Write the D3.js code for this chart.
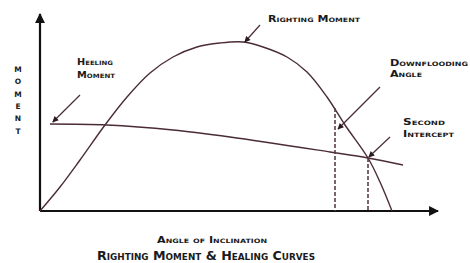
<!DOCTYPE html>
<html><head><meta charset="utf-8">
<script src="https://cdn.jsdelivr.net/npm/d3@7"></script>
<style>
body{margin:0;background:#fff;}
text{font-family:"DejaVu Sans","Liberation Sans",sans-serif;font-weight:bold;font-variant:small-caps;fill:#1a1a1a;}
</style></head><body>
<svg id="c" width="470" height="263"></svg>
<script>
// Data (angle of inclination vs moment, arbitrary units)
const rightingAngle  = [0, 5, 10, 16.25, 21.75, 27.5, 33.25, 39.25, 45, 50.75, 55.75, 61.75, 66.75, 71.75, 76.25, 82, 85, 88];
const rightingMoment = [0, 12, 25.5, 43, 57, 69, 77, 82, 84, 84.5, 82, 77, 69.5, 57, 43, 26.5, 14.5, 0];
const heelingAngle   = [2.5, 16.75, 33.25, 47.5, 72.5, 82, 90.75];
const heelingMoment  = [43.5, 43, 40.5, 37, 29.5, 26.5, 23];
const downfloodingAngle = 73.75;
const downfloodingMoment = 51.5;
const secondInterceptAngle = 82;
const secondInterceptMoment = 26.5;
const labels = {
  righting: ["Righting Moment"],
  heeling: ["Heeling", "Moment"],
  downflooding: ["Downflooding", "Angle"],
  intercept: ["Second", "Intercept"],
  yTitle: "MOMENT",
  xTitle: "Angle of Inclination",
  title: "Righting Moment & Healing Curves"
};

const svg = d3.select("#c");
const x = d3.scaleLinear().domain([0, 100]).range([40, 440]);
const y = d3.scaleLinear().domain([0, 100]).range([211, 11]);

const defs = svg.append("defs");
defs.append("marker").attr("id","ax").attr("viewBox","0 0 10 10").attr("refX",9).attr("refY",5)
  .attr("markerWidth",5).attr("markerHeight",4.5).attr("orient","auto").attr("markerUnits","strokeWidth")
  .append("path").attr("d","M0,0L10,5L0,10z").attr("fill","#111");
defs.append("marker").attr("id","ar").attr("viewBox","0 0 10 10").attr("refX",9).attr("refY",5)
  .attr("markerWidth",7).attr("markerHeight",6).attr("orient","auto").attr("markerUnits","userSpaceOnUse")
  .append("path").attr("d","M0,0L10,5L0,10z").attr("fill","#2a1a1e");

const curveColor = "#4a2c34";

// Axes
const xAxis = d3.axisBottom(x).tickValues([]).tickSizeOuter(0);
const yAxis = d3.axisLeft(y).tickValues([]).tickSizeOuter(0);
const gx = svg.append("g").attr("transform",`translate(0,${y(0)})`).call(xAxis);
const gy = svg.append("g").attr("transform",`translate(${x(0)},0)`).call(yAxis);
gx.select(".domain").attr("d",`M${x(0)},0H${x(99.5)}`).attr("stroke","#111").attr("stroke-width",2.2).attr("marker-end","url(#ax)");
gy.select(".domain").attr("d",`M0,${y(0)}V${y(98.5)}`).attr("stroke","#111").attr("stroke-width",2.2).attr("marker-end","url(#ax)");

// curves
const rData = rightingAngle.map((a,i)=>[a, rightingMoment[i]]);
const hData = heelingAngle.map((a,i)=>[a, heelingMoment[i]]);
const line = d3.line().x(d=>x(d[0])).y(d=>y(d[1])).curve(d3.curveCatmullRom.alpha(0.5));
svg.append("path").datum(rData).attr("d",line).attr("fill","none").attr("stroke",curveColor).attr("stroke-width",1.4);
svg.append("path").datum(hData).attr("d",line).attr("fill","none").attr("stroke",curveColor).attr("stroke-width",1.4);

// dashed verticals
[[downfloodingAngle, downfloodingMoment],[secondInterceptAngle, secondInterceptMoment]].forEach(([a,m])=>{
  svg.append("line").attr("x1",x(a)).attr("x2",x(a)).attr("y1",y(m)).attr("y2",y(0))
    .attr("stroke","#5a3c4c").attr("stroke-width",1.6).attr("stroke-dasharray","4,2");
});

// annotation arrows
function arrow(x1,y1,x2,y2){
  svg.append("line").attr("x1",x1).attr("y1",y1).attr("x2",x2).attr("y2",y2)
    .attr("stroke",curveColor).attr("stroke-width",1.2).attr("marker-end","url(#ar)");
}
arrow(x(55),y(93),x(51.2),y(84.5));
arrow(x(10),y(58),x(3.2),y(44.5));
arrow(x(85),y(62),x(74.5),y(41));
arrow(x(87.5),y(37),x(82.2),y(27));

// label: lines with [baseline y, fitted width]
function label(lines, px, specs, size){
  lines.forEach((s,i)=>{
    svg.append("text").attr("x",px).attr("y",specs[i][0]).attr("font-size",size)
      .attr("textLength",specs[i][1]).attr("lengthAdjust","spacingAndGlyphs").text(s);
  });
}
label(labels.righting, 268, [[22,92]], 8.5);
label(labels.heeling, 77, [[65,36],[78,38]], 8.5);
label(labels.downflooding, 390, [[66,78],[77,32]], 8.5);
label(labels.intercept, 403, [[125,42],[137,51]], 8.5);

// Y title vertical letters
const yt = svg.append("text").attr("font-size",7.5).attr("text-anchor","middle");
labels.yTitle.split("").forEach((c,i)=>yt.append("tspan").attr("x",18).attr("y",72+i*12.3).text(c));

label([labels.xTitle], 157, [[243,110]], 8.5);
label([labels.title], 97, [[260,218]], 11.5);
</script></body></html>
